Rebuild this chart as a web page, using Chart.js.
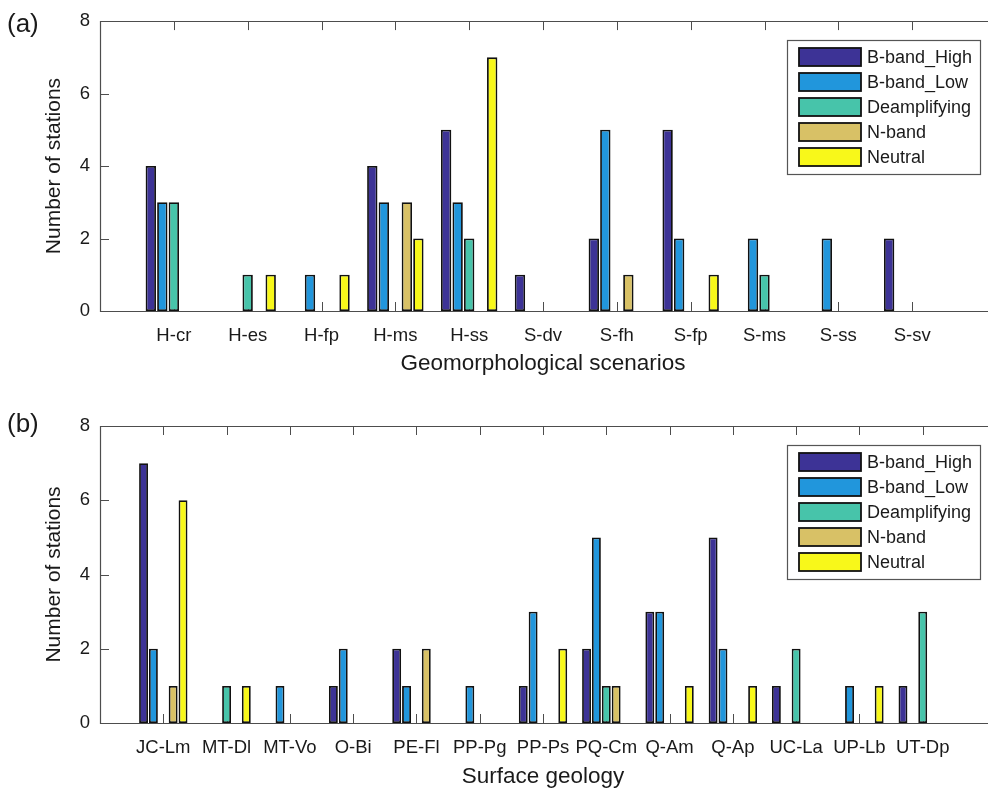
<!DOCTYPE html>
<html>
<head>
<meta charset="utf-8">
<script src="https://cdn.jsdelivr.net/npm/chart.js@4"></script>
<style>
  html, body { margin: 0; padding: 0; background: #fff; overflow: hidden; }
  #wrap { position: relative; width: 988px; height: 792px; overflow: hidden; }
  canvas { position: absolute; left: 0; }
  #geo { top: 0; }
  #surf { top: 396px; }
</style>
</head>
<body>
<div id="wrap">
  <canvas id="geo" width="1000" height="396"></canvas>
  <canvas id="surf" width="1000" height="396"></canvas>
</div>
<script>
const series = ['B-band_High', 'B-band_Low', 'Deamplifying', 'N-band', 'Neutral'];
const colors = ['#3d3396', '#2196dc', '#47c4aa', '#d8c166', '#f8f81a'];
const yTicks = [0, 2, 4, 6, 8];

// (a) geomorphological scenarios
const scenarios = ['H-cr', 'H-es', 'H-fp', 'H-ms', 'H-ss', 'S-dv', 'S-fh', 'S-fp', 'S-ms', 'S-ss', 'S-sv'];
const scnHigh    = [4, 0, 0, 4, 5, 1, 2, 5, 0, 0, 2];
const scnLow     = [3, 0, 1, 3, 3, 0, 5, 2, 2, 2, 0];
const scnDeamp   = [3, 1, 0, 0, 2, 0, 0, 0, 1, 0, 0];
const scnNband   = [0, 0, 0, 3, 0, 0, 1, 0, 0, 0, 0];
const scnNeutral = [0, 1, 1, 2, 7, 0, 0, 1, 0, 0, 0];

// (b) surface geology
const geology = ['JC-Lm', 'MT-Dl', 'MT-Vo', 'O-Bi', 'PE-Fl', 'PP-Pg', 'PP-Ps', 'PQ-Cm', 'Q-Am', 'Q-Ap', 'UC-La', 'UP-Lb', 'UT-Dp'];
const geoHigh    = [7, 0, 0, 1, 2, 0, 1, 2, 3, 5, 1, 0, 1];
const geoLow     = [2, 0, 1, 2, 1, 1, 3, 5, 3, 2, 0, 1, 0];
const geoDeamp   = [0, 1, 0, 0, 0, 0, 0, 1, 0, 0, 2, 0, 3];
const geoNband   = [1, 0, 0, 0, 2, 0, 0, 1, 0, 0, 0, 0, 0];
const geoNeutral = [6, 1, 0, 0, 0, 0, 2, 0, 1, 1, 0, 1, 0];

const FONT = "'Liberation Sans', Arial, Helvetica, sans-serif";
const INK = '#1a1a1a';
const AXIS = '#4d4d4d';

// inward ticks, open-right axes box, legend and panel letter
const frame = {
  id: 'frame',
  beforeDatasetsDraw(chart) {
    const { ctx, chartArea: a, scales: { x, y } } = chart;
    ctx.save();
    ctx.strokeStyle = AXIS;
    ctx.lineWidth = 1;
    ctx.beginPath();
    for (let i = 1; i < x.ticks.length - 1; i++) {
      const px = Math.round(x.getPixelForTick(i)) + 0.5;
      ctx.moveTo(px, a.bottom); ctx.lineTo(px, a.bottom - 9);
      ctx.moveTo(px, a.top); ctx.lineTo(px, a.top + 9);
    }
    y.ticks.forEach(t => {
      const py = Math.round(y.getPixelForValue(t.value)) + 0.5;
      ctx.moveTo(a.left, py); ctx.lineTo(a.left + 9, py);
    });
    ctx.stroke();
    ctx.restore();
  },
  afterDatasetsDraw(chart, args, opts) {
    const { ctx, chartArea: a } = chart;
    ctx.save();
    ctx.strokeStyle = AXIS;
    ctx.lineWidth = 1.2;
    ctx.beginPath();
    ctx.moveTo(chart.width, Math.round(a.top) + 0.5);
    ctx.lineTo(Math.round(a.left) + 0.5, Math.round(a.top) + 0.5);
    ctx.lineTo(Math.round(a.left) + 0.5, Math.round(a.bottom) + 0.5);
    ctx.lineTo(chart.width, Math.round(a.bottom) + 0.5);
    ctx.stroke();

    // legend
    const lx = 787, ly = Math.round(a.top) + 19, lw = 193, lh = 134;
    ctx.fillStyle = '#fff';
    ctx.fillRect(lx, ly, lw, lh);
    ctx.strokeStyle = '#555';
    ctx.lineWidth = 1.2;
    ctx.strokeRect(lx + 0.5, ly + 0.5, lw, lh);
    ctx.font = '18px ' + FONT;
    ctx.textBaseline = 'middle';
    chart.data.datasets.forEach((ds, i) => {
      const cy = ly + 17 + 25 * i;
      ctx.fillStyle = ds.backgroundColor;
      ctx.fillRect(lx + 12, cy - 9, 62, 18);
      ctx.strokeStyle = '#111';
      ctx.lineWidth = 1.8;
      ctx.strokeRect(lx + 12, cy - 9, 62, 18);
      ctx.fillStyle = INK;
      ctx.fillText(ds.label, lx + 80, cy + 1);
    });

    // panel letter
    ctx.font = '26px ' + FONT;
    ctx.fillStyle = INK;
    ctx.textBaseline = 'middle';
    ctx.fillText(opts.letter, 7, opts.letterY);
    ctx.restore();
  }
};

function makeChart(id, cats, vals, o) {
  return new Chart(document.getElementById(id), {
    type: 'bar',
    data: {
      labels: ['', ...cats, ''],
      datasets: series.map((name, i) => ({
        label: name,
        data: [null, ...vals[i].map(v => v || null), null],
        backgroundColor: colors[i],
        borderColor: '#111',
        borderWidth: 1.8,
        borderSkipped: false,
        categoryPercentage: 0.78,
        barPercentage: 0.9
      }))
    },
    options: {
      responsive: false,
      animation: false,
      layout: { padding: { top: o.top, left: 0, right: 0, bottom: 0 } },
      plugins: {
        legend: { display: false },
        frame: { letter: o.letter, letterY: o.letterY }
      },
      scales: {
        x: {
          offset: false,
          grid: { display: false, drawTicks: false },
          border: { display: false },
          ticks: {
            autoSkip: false, maxRotation: 0, padding: 14,
            color: INK, font: { family: FONT, size: 18.5 }
          },
          title: {
            display: true, text: o.xTitle, color: INK,
            font: { family: FONT, size: 22.5 },
            padding: { top: 0, bottom: o.titlePad }
          },
          afterFit: s => { s.height = 396 - o.bottom; }
        },
        y: {
          min: 0, max: 8,
          grid: { display: false, drawTicks: false },
          border: { display: false },
          afterBuildTicks: s => { s.ticks = yTicks.map(v => ({ value: v })); },
          ticks: { padding: 10, color: INK, font: { family: FONT, size: 18.5 } },
          title: {
            display: true, text: 'Number of stations', color: INK,
            font: { family: FONT, size: 21 },
            padding: { top: 42, bottom: 0 }
          },
          afterFit: s => { s.width = 100; }
        }
      }
    },
    plugins: [frame]
  });
}

makeChart('geo', scenarios, [scnHigh, scnLow, scnDeamp, scnNband, scnNeutral], {
  top: 14, bottom: 311, titlePad: 19, xTitle: 'Geomorphological scenarios', letter: '(a)', letterY: 25
});
makeChart('surf', geology, [geoHigh, geoLow, geoDeamp, geoNband, geoNeutral], {
  top: 30, bottom: 327, titlePad: 2, xTitle: 'Surface geology', letter: '(b)', letterY: 29
});
</script>
</body>
</html>
